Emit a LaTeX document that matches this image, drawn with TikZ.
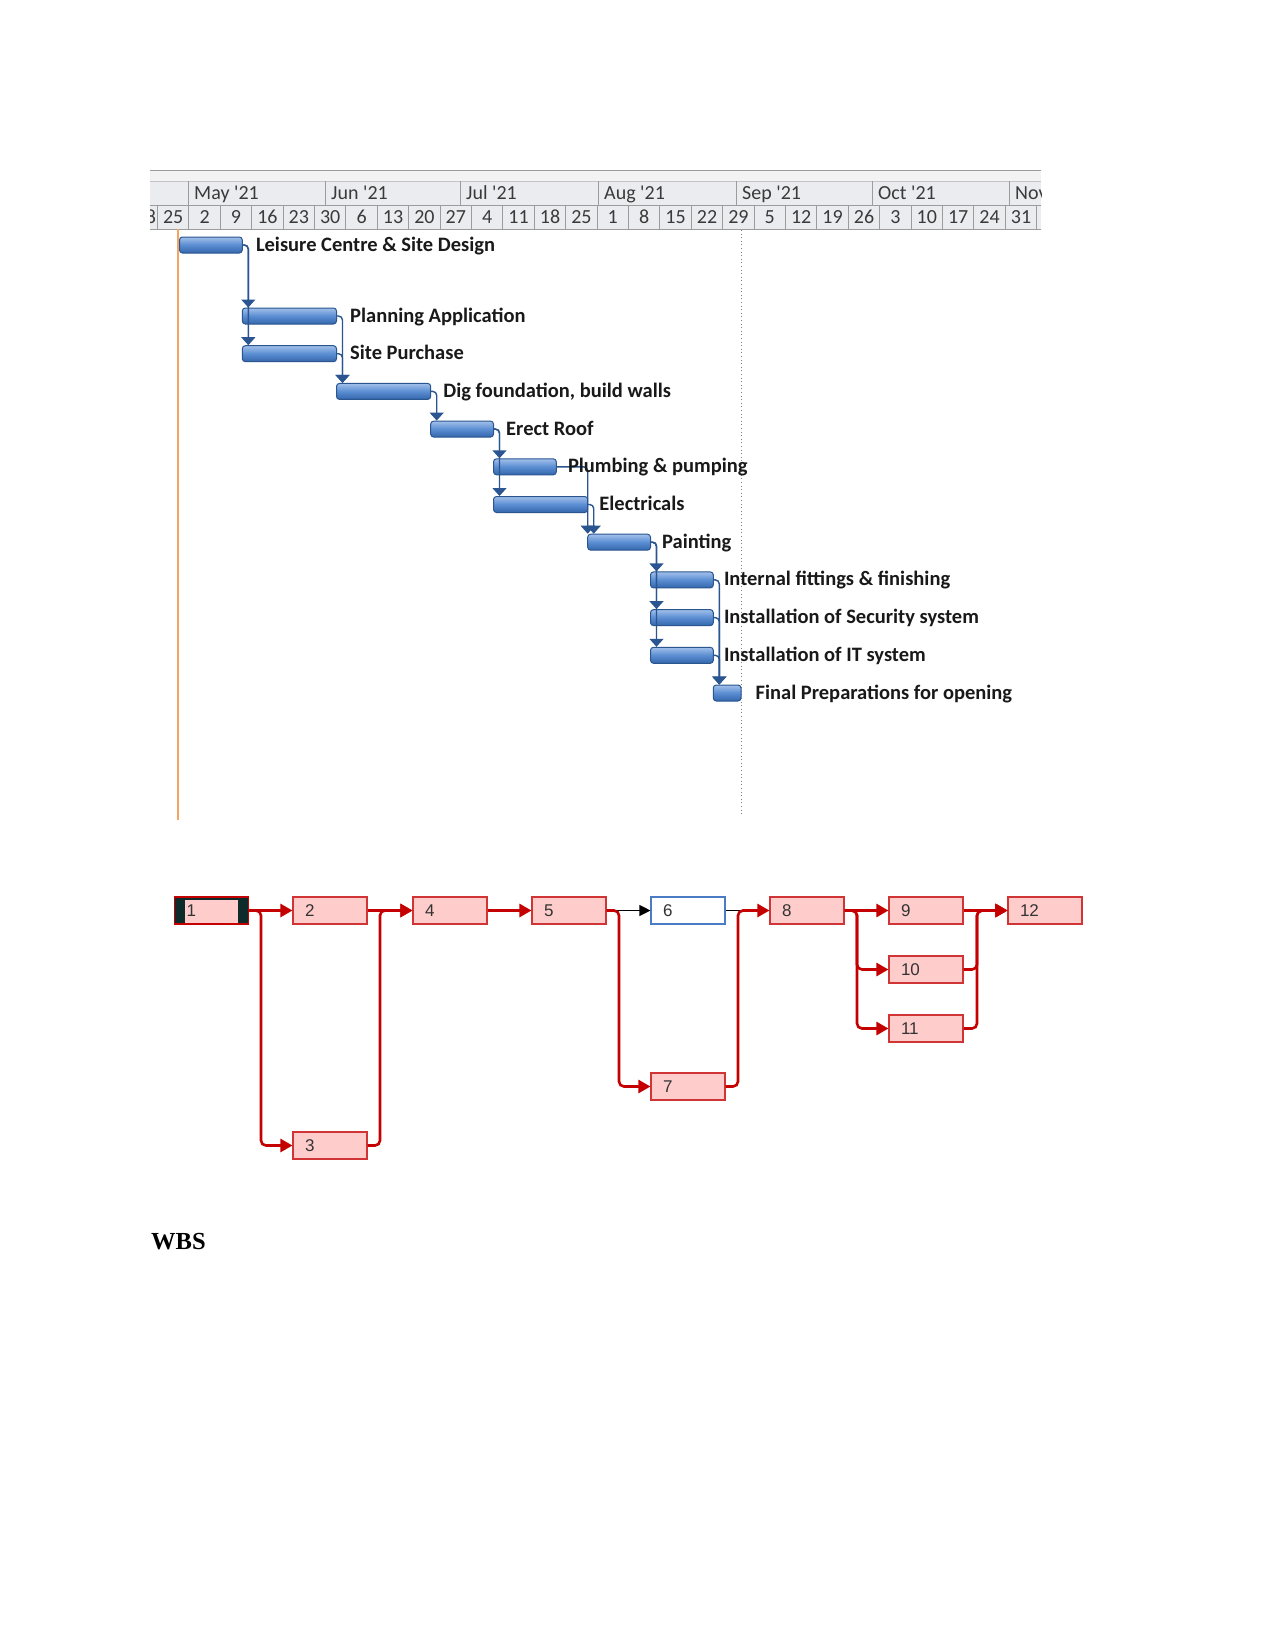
\documentclass[tikz,border=0pt]{standalone}
\usepackage{fontspec}
\setmainfont{Carlito}
\newfontfamily\hdrfont{Carlito}[Ligatures=ResetAll]
\newfontfamily\netfont{Liberation Sans}
\newfontfamily\serfont{Liberation Serif}
\usetikzlibrary{arrows.meta,calc}
\definecolor{gbarD}{HTML}{2A558F}
\definecolor{gbarT}{HTML}{A2C0EA}
\definecolor{gbarM}{HTML}{5A8DD2}
\definecolor{gbarB}{HTML}{3566AB}
\definecolor{glinkc}{HTML}{2A5590}
\definecolor{hdrbg}{HTML}{EAECEF}
\definecolor{hdrtop}{HTML}{F3F3F3}
\definecolor{hdrln}{HTML}{9C9C9C}
\definecolor{hdrtx}{HTML}{3A3A3A}
\definecolor{orangeL}{HTML}{F4A460}
\definecolor{netred}{HTML}{C40000}
\definecolor{boxfill}{HTML}{FFCCCC}
\definecolor{boxline}{HTML}{D03434}
\definecolor{boxblue}{HTML}{4A7BC4}
\definecolor{darkteal}{HTML}{0E2B2B}
\definecolor{numtx}{HTML}{333333}
\tikzset{
  gbar/.style={rectangle, rounded corners=3pt, draw=gbarD, line width=1pt,
    top color=gbarT, bottom color=gbarB, middle color=gbarM,
    minimum height=16, inner sep=0pt},
  glabel/.style={anchor=base west, inner sep=0pt, text=black!90,
    font=\bfseries\fontsize{20.5}{24}\selectfont},
  glink/.style={draw=glinkc, line width=1.4pt, rounded corners=4pt,
    -{Triangle[length=8pt,width=14pt]}},
  hdrtext/.style={inner sep=0pt, text=hdrtx, font=\hdrfont\fontsize{20}{24}\selectfont},
  nbox/.style={rectangle, draw=boxline, fill=boxfill, line width=1.1pt,
    minimum width=74, minimum height=27, text width=50, inner xsep=12pt,
    inner ysep=0pt, align=left, text=numtx, font=\netfont\fontsize{17}{19}\selectfont},
  n1box/.style={nbox, fill=darkteal, draw=netred,
    path picture={\fill[boxfill] ($(path picture bounding box.south west)+(10.5,-1.5)$)
      rectangle ($(path picture bounding box.north east)+(-10.5,2.5)$);}},
  n6box/.style={nbox, fill=white, draw=boxblue},
  nlink/.style={draw=netred, line width=2.6pt, rounded corners=5pt,
    -{Triangle[length=12pt,width=13pt]}},
  blink/.style={draw=black, line width=1.1pt, -{Triangle[length=11pt,width=11pt]}},
  bplain/.style={draw=black, line width=1.1pt}
}
\begin{document}
\begin{tikzpicture}[x=1pt,y=-1pt]
\useasboundingbox (0,0) rectangle (1275,1651);
\fill[white] (0,0) rectangle (1275,1651);

% ---------- timescale header ----------
\begin{scope}
\clip (150,165) rectangle (1041,230);
\fill[hdrtop] (150,170) rectangle (1041,181);
\fill[hdrbg] (150,181) rectangle (1041,229);
\draw[hdrln, line width=1pt] (150,170.5) -- (1041,170.5);
\draw[hdrln!60, line width=0.8pt] (150,181) -- (1041,181);
\draw[hdrln, line width=1pt] (150,205) -- (1041,205);
\draw[hdrln, line width=1pt] (150,229) -- (1041,229);
\foreach \x in {188,325,460,598,736,872,1009}
  \draw[hdrln, line width=1pt] (\x,181) -- (\x,205);
\foreach \k in {0,...,28}
  \draw[hdrln, line width=1pt] ({157.5+31.4*\k},205) -- ({157.5+31.4*\k},229);
\foreach \x/\m [count=\i] in {188/May,325/Jun,460/Jul,598/Aug,736/Sep,872/Oct,1009/Nov}
  \node[hdrtext, anchor=base west] (mon\i) at (\x+6,199) {\m\ '21};
\foreach \d [count=\i from -1] in {18,25,2,9,16,23,30,6,13,20,27,4,11,18,25,1,8,15,22,29,5,12,19,26,3,10,17,24,31}
  \node[hdrtext, anchor=base] (day\i) at ({173.2+31.4*\i+(\i==-1?4:0)},223.5) {\d};
\end{scope}

% ---------- vertical markers ----------
\draw[orangeL, line width=1.3pt] (178,229) -- (178,820);
\draw[gray, line width=1pt, dash pattern=on 1pt off 2.6pt] (741.5,230) -- (741.5,815);

% ---------- gantt bars ----------
\node[gbar, minimum width=62.8] (b1) at (210.9,245) {};
\node[gbar, minimum width=94.2] (b2) at (289.4,316) {};
\node[gbar, minimum width=94.2] (b3) at (289.4,353.7) {};
\node[gbar, minimum width=94.2] (b4) at (383.6,391.4) {};
\node[gbar, minimum width=62.8] (b5) at (462.1,429.1) {};
\node[gbar, minimum width=62.8] (b6) at (524.9,466.8) {};
\node[gbar, minimum width=94.2] (b7) at (540.6,504.5) {};
\node[gbar, minimum width=62.8] (b8) at (619.1,542.2) {};
\node[gbar, minimum width=62.8] (b9) at (681.9,579.9) {};
\node[gbar, minimum width=62.8] (b10) at (681.9,617.6) {};
\node[gbar, minimum width=62.8] (b11) at (681.9,655.3) {};
\node[gbar, minimum width=27.7] (b12) at (727.15,693) {};

% ---------- gantt links ----------
\draw[glink] (b1.east) -| ($(b2.north west)+(6.5,0)$);
\draw[glink] (b1.east) -| ($(b3.north west)+(6.5,0)$);
\draw[glink] (b2.east) -| ($(b4.north west)+(6.5,0)$);
\draw[glink] (b3.east) -| ($(b4.north west)+(6.5,0)$);
\draw[glink] (b4.east) -| ($(b5.north west)+(6.5,0)$);
\draw[glink] (b5.east) -| ($(b6.north west)+(6.5,0)$);
\draw[glink] (b5.east) -| ($(b7.north west)+(6.5,0)$);
\draw[glink] (b6.east) -| ($(b8.north west)+(0.5,0)$);
\draw[glink] (b7.east) -| ($(b8.north west)+(6.5,0)$);
\draw[glink] (b8.east) -| ($(b9.north west)+(6.5,0)$);
\draw[glink] (b8.east) -| ($(b10.north west)+(6.5,0)$);
\draw[glink] (b8.east) -| ($(b11.north west)+(6.5,0)$);
\draw[glink] (b9.east) -| ($(b12.north west)+(6.5,0)$);
\draw[glink] (b10.east) -| ($(b12.north west)+(6.5,0)$);
\draw[glink] (b11.east) -| ($(b12.north west)+(6.5,0)$);

% ---------- gantt labels ----------
\node[glabel] (t1) at ($(b1.east)+(13,6)$) {Leisure Centre \& Site Design};
\node[glabel] (t2) at ($(b2.east)+(13,6)$) {Planning Application};
\node[glabel] (t3) at ($(b3.east)+(13,6)$) {Site Purchase};
\node[glabel] (t4) at ($(b4.east)+(12,6)$) {Dig foundation, build walls};
\node[glabel] (t5) at ($(b5.east)+(12,6)$) {Erect Roof};
\node[glabel] (t6) at ($(b6.east)+(11,6)$) {Plumbing \& pumping};
\node[glabel] (t7) at ($(b7.east)+(11,6)$) {Electricals};
\node[glabel] (t8) at ($(b8.east)+(11,6)$) {Painting};
\node[glabel] (t9) at ($(b9.east)+(10,6)$) {Internal fittings \& finishing};
\node[glabel] (t10) at ($(b10.east)+(10,6)$) {Installation of Security system};
\node[glabel] (t11) at ($(b11.east)+(10,6)$) {Installation of IT system};
\node[glabel] (t12) at ($(b12.east)+(14,6)$) {Final Preparations for opening};

% ---------- network diagram ----------
\coordinate (j1) at (261,910.5);
\coordinate (j3) at (380,910.5);
\coordinate (j5) at (619,910.5);
\coordinate (j7) at (738,910.5);
\coordinate (j6) at (741,910.5);
\coordinate (j8) at (857,910.5);
\coordinate (j9) at (977,910.5);

\node[n1box] (n1) at (211.5,910.5) {1};
\node[nbox] (n2) at (330,910.5) {2};
\node[nbox] (n3) at (330,1145.5) {3};
\node[nbox] (n4) at (450,910.5) {4};
\node[nbox] (n5) at (569,910.5) {5};
\node[n6box] (n6) at (688,910.5) {6};
\node[nbox] (n7) at (688,1086.5) {7};
\node[nbox] (n8) at (807,910.5) {8};
\node[nbox] (n9) at (926,910.5) {9};
\node[nbox] (n10) at (926,969.5) {10};
\node[nbox] (n11) at (926,1028.5) {11};
\node[nbox] (n12) at (1045,910.5) {12};

\draw[nlink] (n1.east) -- (n2.west);
\draw[nlink] (n1.east) -- (j1) |- (n3.west);
\draw[nlink] (n2.east) -- (n4.west);
\draw[nlink] (n3.east) -| (j3) -- (n4.west);
\draw[nlink] (n4.east) -- (n5.west);
\draw[blink] (n5.east) -- (n6.west);
\draw[nlink] (n5.east) -- (j5) |- (n7.west);
\draw[bplain] (n6.east) -- (j6);
\draw[nlink] (n7.east) -| (j7) -- (n8.west);
\draw[nlink] (n8.east) -- (n9.west);
\draw[nlink] (n8.east) -- (j8) |- (n10.west);
\draw[nlink] (n8.east) -- (j8) |- (n11.west);
\draw[nlink] (n9.east) -- (n12.west);
\draw[nlink] (n10.east) -| (j9) -- (n12.west);
\draw[nlink] (n11.east) -| (j9) -- (n12.west);

% ---------- WBS heading ----------
\node[anchor=base west, inner sep=0pt, font=\serfont\bfseries\fontsize{24.5}{28}\selectfont] (wbs) at (151,1249) {WBS};
\end{tikzpicture}
\end{document}
